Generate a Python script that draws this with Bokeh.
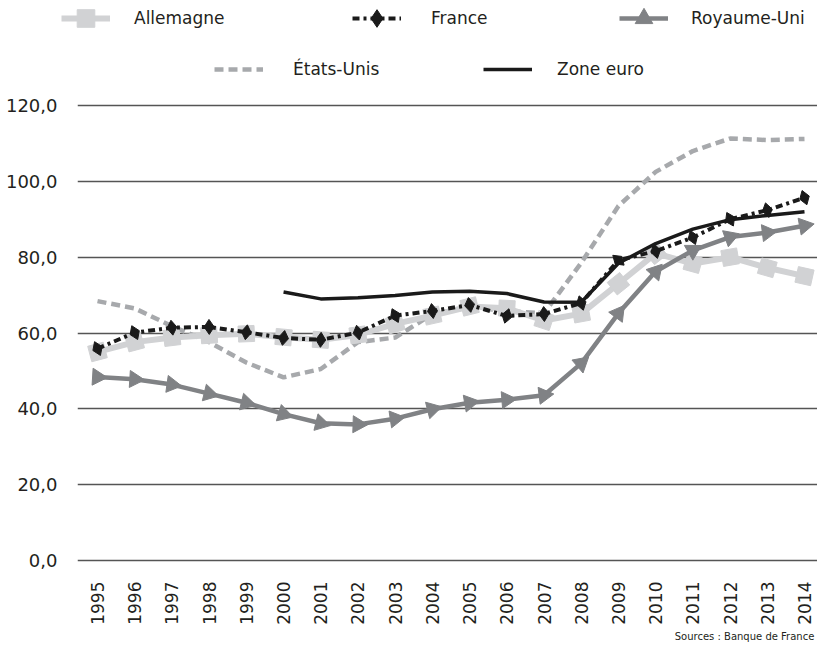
import math
from bokeh.plotting import figure
from bokeh.layouts import column
from bokeh.models import (Range1d, FixedTicker, CustomJSTickFormatter, Legend,
                          LegendItem, Title, ColumnDataSource)
from bokeh.embed import file_html
from bokeh.resources import INLINE

# ---------------- data ----------------
years = list(range(1995, 2015))
allemagne = [55.0, 57.6, 58.8, 59.4, 59.8, 58.9, 58.2, 59.5, 62.4, 64.6,
             67.0, 66.5, 63.3, 65.1, 73.0, 81.0, 78.3, 80.0, 77.2, 75.0]
france = [55.9, 60.1, 61.4, 61.6, 60.2, 58.7, 58.2, 60.1, 64.6, 65.8,
          67.4, 64.5, 65.0, 67.9, 79.2, 81.6, 85.2, 90.0, 92.4, 95.7]
royaume_uni = [48.4, 47.8, 46.4, 44.0, 41.6, 38.6, 36.2, 35.9, 37.4, 39.9,
               41.6, 42.4, 43.6, 52.0, 65.2, 76.2, 81.8, 85.3, 86.5, 88.3]
etats_unis = [68.4, 66.5, 61.8, 57.6, 52.2, 48.3, 50.5, 57.6, 58.8, 65.0,
              66.8, 65.8, 65.2, 78.5, 93.5, 102.5, 108.0, 111.3, 110.9, 111.2]
euro_years = list(range(2000, 2015))
zone_euro = [70.8, 69.0, 69.3, 69.9, 70.8, 71.0, 70.4, 68.2, 68.1, 78.4,
             83.6, 87.4, 89.9, 91.0, 92.0]
y_ticks = [0, 20, 40, 60, 80, 100, 120]
source_text = "Sources :  Banque de France"

# ---------------- layout ----------------
W = 817
LEG_H = 80
MAIN_H = 563
BL, BB = 77, 81
frame_w, frame_h = W - BL, MAIN_H - BB
x0, x1 = 1994.4625, 2014.3495
y0, y1 = -0.53, 126.6
kx = frame_w / (x1 - x0)
ky = frame_h / (y1 - y0)


def seg_angles(xs, ys):
    out = []
    for i in range(len(xs)):
        j = i if i > 0 else 1
        out.append(math.atan2((ys[j] - ys[j - 1]) * ky, (xs[j] - xs[j - 1]) * kx))
    return out


TXT = "#231f20"
LIGHT = "#d1d2d4"
MID = "#808285"
DASHC = "#a7a9ac"
BLACK = "#1a1a1a"

STY = {
    "Allemagne": dict(line=dict(line_color=LIGHT, line_width=6),
                      marker=dict(marker="square", size=16, fill_color=LIGHT, line_color=LIGHT)),
    "France": dict(line=dict(line_color=BLACK, line_width=4, line_dash="7 4 3 4"),
                   marker=dict(marker="diamond", size=15, fill_color=BLACK, line_color=BLACK)),
    "Royaume-Uni": dict(line=dict(line_color=MID, line_width=4.5),
                        marker=dict(marker="triangle", size=17, fill_color=MID, line_color=MID)),
    "États-Unis": dict(line=dict(line_color=DASHC, line_width=4.5, line_dash="9 5"), marker=None),
    "Zone euro": dict(line=dict(line_color=BLACK, line_width=3.5), marker=None),
}
SERIES = {
    "Allemagne": (years, allemagne),
    "France": (years, france),
    "Royaume-Uni": (years, royaume_uni),
    "États-Unis": (years, etats_unis),
    "Zone euro": (euro_years, zone_euro),
}

# ---------------- main chart ----------------
p = figure(width=W, height=MAIN_H, x_range=Range1d(x0, x1), y_range=Range1d(y0, y1),
           output_backend="svg", toolbar_location=None,
           min_border_left=BL, min_border_right=0, min_border_top=0,
           min_border_bottom=BB)
p.frame_align = False
p.outline_line_color = None
p.background_fill_color = "white"
p.border_fill_color = "white"

p.xaxis.ticker = FixedTicker(ticks=years)
p.xaxis.formatter = CustomJSTickFormatter(code="return tick.toFixed(0);")
p.xaxis.major_label_orientation = math.pi / 2
p.yaxis.ticker = FixedTicker(ticks=y_ticks)
p.yaxis.formatter = CustomJSTickFormatter(code="return tick.toFixed(1).replace('.', ',');")
for ax in (p.xaxis, p.yaxis):
    ax.axis_line_color = None
    ax.major_tick_line_color = None
    ax.minor_tick_line_color = None
    ax.major_tick_in = 0
    ax.major_tick_out = 0
    ax.major_label_text_font = "DejaVu Sans"
    ax.major_label_text_color = TXT
p.xaxis.major_label_text_font_size = "17px"
p.xaxis.major_label_standoff = 19
p.yaxis.major_label_text_font_size = "18px"
p.yaxis.major_label_standoff = 20

p.xgrid.grid_line_color = None
p.ygrid.grid_line_color = "#555555"
p.ygrid.grid_line_width = 1.4

src_us = ColumnDataSource(dict(x=years, y=etats_unis))
p.line("x", "y", source=src_us, **STY["États-Unis"]["line"])

src_de = ColumnDataSource(dict(x=years, y=allemagne, a=seg_angles(years, allemagne)))
p.line("x", "y", source=src_de, **STY["Allemagne"]["line"])
p.scatter("x", "y", source=src_de, angle="a", **STY["Allemagne"]["marker"])

src_uk = ColumnDataSource(dict(x=years, y=royaume_uni,
                               a=[t - math.pi / 2 for t in seg_angles(years, royaume_uni)]))
p.line("x", "y", source=src_uk, **STY["Royaume-Uni"]["line"])
p.scatter("x", "y", source=src_uk, angle="a", **STY["Royaume-Uni"]["marker"])

src_fr = ColumnDataSource(dict(x=years, y=france, a=seg_angles(years, france)))
p.line("x", "y", source=src_fr, **STY["France"]["line"])
p.scatter("x", "y", source=src_fr, angle="a", **STY["France"]["marker"])

src_eu = ColumnDataSource(dict(x=euro_years, y=zone_euro))
p.line("x", "y", source=src_eu, **STY["Zone euro"]["line"])

p.add_layout(Title(text=source_text, align="right", text_font="DejaVu Sans",
                   text_font_size="10px", text_font_style="normal",
                   text_color=TXT, standoff=3), "below")

# ---------------- legend strip ----------------
# the series are drawn again here outside the visible range; only their
# legend swatches show
lg = figure(width=W, height=LEG_H, x_range=Range1d(0, 1), y_range=Range1d(0, 1),
            output_backend="svg", toolbar_location=None,
            x_axis_location=None, y_axis_location=None,
            min_border_left=0, min_border_right=0, min_border_top=0,
            min_border_bottom=0)
lg.frame_align = False
lg.grid.grid_line_color = None
lg.outline_line_color = None

# (label, swatch left x, row centre y, label standoff, glyph height)
leg_specs = [
    ("Allemagne", 61, 18, 24, 44),
    ("France", 352, 18, 30, 44),
    ("Royaume-Uni", 619, 18, 23, 44),
    ("États-Unis", 214, 69, 30, 20),
    ("Zone euro", 483, 69, 25, 20),
]
for label, sx, cy, stand, gh in leg_specs:
    st = STY[label]
    xs, ys = SERIES[label]
    rends = [lg.line(x=xs, y=ys, **st["line"])]
    if st["marker"] is not None:
        ang = -math.pi / 2 if st["marker"]["marker"] == "triangle" else 0.0
        rends.append(lg.scatter(x=xs, y=ys, angle=ang, **st["marker"]))
    leg = Legend(items=[LegendItem(label=label, renderers=rends)],
                 location=(sx, LEG_H - cy - gh / 2), orientation="horizontal",
                 glyph_width=49, glyph_height=gh, label_standoff=stand,
                 padding=0, margin=0, spacing=0,
                 border_line_color=None, background_fill_alpha=0,
                 label_text_font="DejaVu Sans", label_text_font_size="17px",
                 label_text_color=TXT, label_height=gh)
    lg.add_layout(leg)

layout = column(lg, p, spacing=0)
open("out.html", "w").write(file_html(layout, INLINE))
